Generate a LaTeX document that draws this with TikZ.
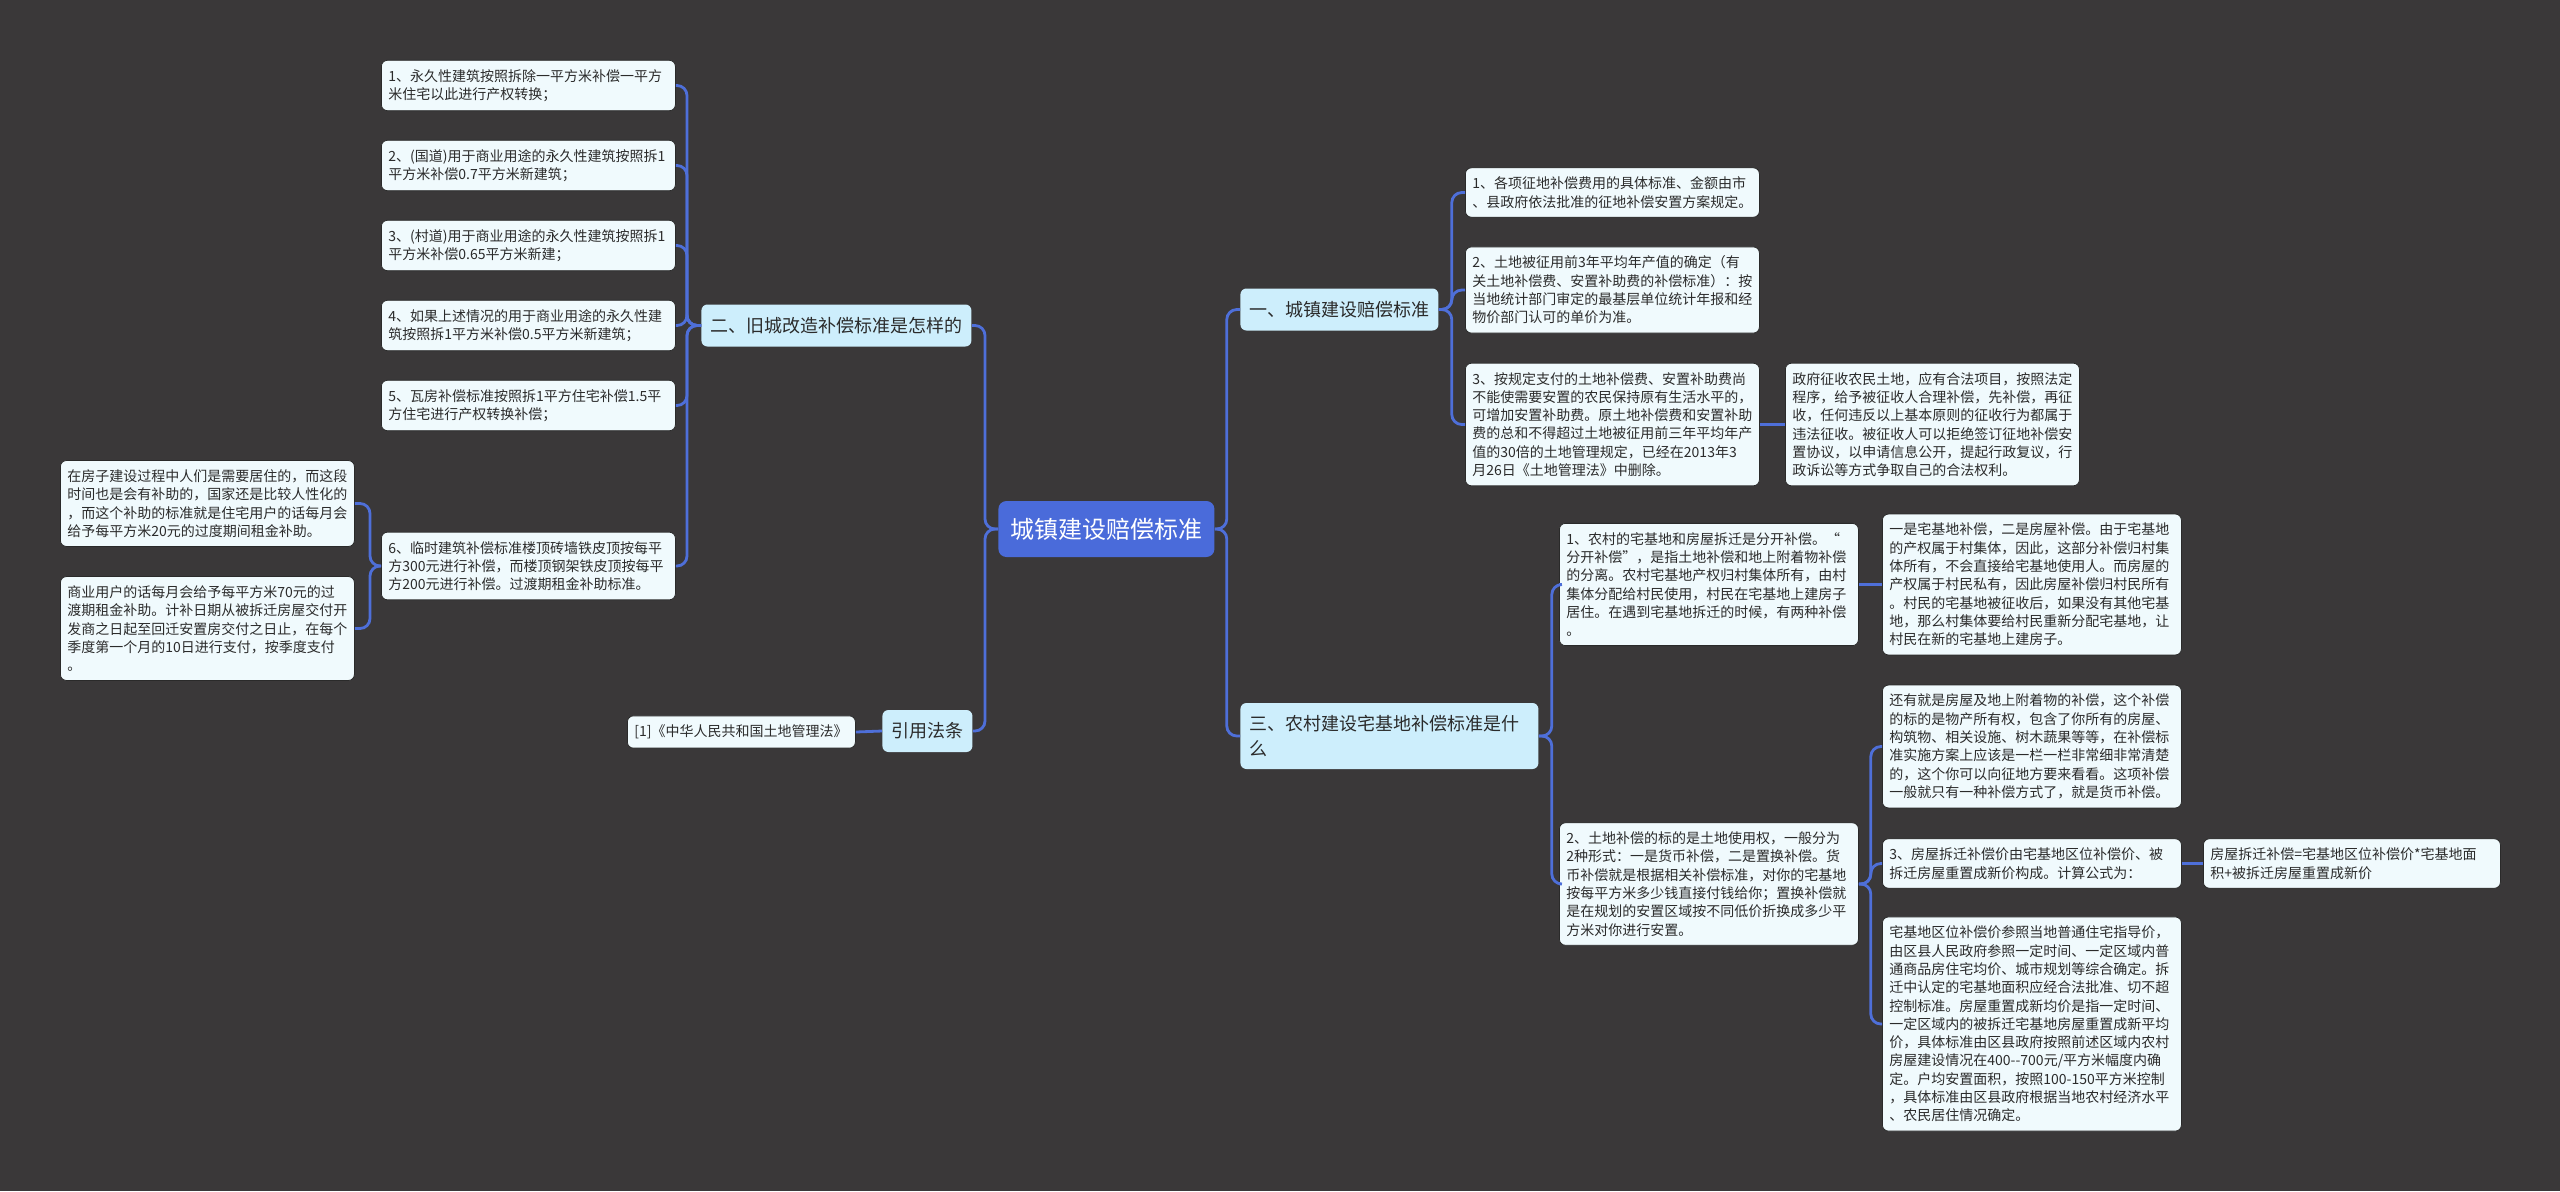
\documentclass[tikz,border=0pt]{standalone}
\usepackage{fontspec}
\setmainfont{Noto Sans CJK SC}
\usepackage{tikz}
\definecolor{bgdark}{HTML}{3A3839}
\definecolor{linkblue}{HTML}{4E6FD9}
\definecolor{rootbg}{HTML}{4A6BDA}
\definecolor{topicbg}{HTML}{CDEEFC}
\definecolor{leafbg}{HTML}{F0FAFD}
\definecolor{leafline}{HTML}{2A2A2A}
\definecolor{inkdark}{HTML}{2B2B2B}
\tikzset{
  leaf/.style={draw=leafline, line width=0.4pt, fill=leafbg, rounded corners=3pt,
               text=inkdark, font=\fontsize{7}{9.15}\selectfont, align=left,
               inner xsep=3.5pt, inner ysep=4.5pt, text width=140pt, anchor=west},
  topic/.style={fill=topicbg, rounded corners=3pt, text=inkdark,
                font=\fontsize{9}{12.5}\selectfont, align=left,
                inner xsep=4.5pt, minimum height=21pt, anchor=west},
  rootnode/.style={fill=rootbg, rounded corners=4pt, text=white,
                   font=\fontsize{12}{14}\selectfont, inner xsep=6pt,
                   minimum height=28pt, anchor=west},
  link/.style={draw=linkblue, line width=1.4pt, rounded corners=5pt},
}
\begin{document}
\begin{tikzpicture}[x=0.5pt, y=-0.5pt]
  \fill[bgdark] (0,0) rectangle (2560,1191);
  % centre
  \node[rootnode] (root) at (998,529) {城镇建设赔偿标准};
  % left side
  \node[topic] (old) at (701,325.5) {二、旧城改造补偿标准是怎样的};
  \node[topic] (cite) at (882,731) {引用法条};
  \node[leaf, text width=107pt] (law) at (627,732) {{[1]}《中华人民共和国土地管理法》};
  \node[leaf] (c1) at (381,85.5) {1、永久性建筑按照拆除一平方米补偿一平方\\米住宅以此进行产权转换；};
  \node[leaf] (c2) at (381,165.5) {2、(国道)用于商业用途的永久性建筑按照拆1\\平方米补偿0.7平方米新建筑；};
  \node[leaf] (c3) at (381,245.5) {3、(村道)用于商业用途的永久性建筑按照拆1\\平方米补偿0.65平方米新建；};
  \node[leaf] (c4) at (381,325.5) {4、如果上述情况的用于商业用途的永久性建\\筑按照拆1平方米补偿0.5平方米新建筑；};
  \node[leaf] (c5) at (381,405.5) {5、瓦房补偿标准按照拆1平方住宅补偿1.5平\\方住宅进行产权转换补偿；};
  \node[leaf] (c6) at (381,566) {6、临时建筑补偿标准楼顶砖墙铁皮顶按每平\\方300元进行补偿，而楼顶钢架铁皮顶按每平\\方200元进行补偿。过渡期租金补助标准。};
  \node[leaf] (g1) at (60,503.5) {在房子建设过程中人们是需要居住的，而这段\\时间也是会有补助的，国家还是比较人性化的\\，而这个补助的标准就是住宅用户的话每月会\\给予每平方米20元的过度期间租金补助。};
  \node[leaf] (g2) at (60,628.5) {商业用户的话每月会给予每平方米70元的过\\渡期租金补助。计补日期从被拆迁房屋交付开\\发商之日起至回迁安置房交付之日止，在每个\\季度第一个月的10日进行支付，按季度支付\\。};
  % right side
  \node[topic] (town) at (1240,309.5) {一、城镇建设赔偿标准};
  \node[topic, text width=140pt, minimum height=33pt] (rural) at (1240,736) {三、农村建设宅基地补偿标准是什\\么};
  \node[leaf] (a1) at (1465,192.5) {1、各项征地补偿费用的具体标准、金额由市\\、县政府依法批准的征地补偿安置方案规定。};
  \node[leaf] (a2) at (1465,290) {2、土地被征用前3年平均年产值的确定（有\\关土地补偿费、安置补助费的补偿标准）：按\\当地统计部门审定的最基层单位统计年报和经\\物价部门认可的单价为准。};
  \node[leaf] (a3) at (1465,424.5) {3、按规定支付的土地补偿费、安置补助费尚\\不能使需要安置的农民保持原有生活水平的，\\可增加安置补助费。原土地补偿费和安置补助\\费的总和不得超过土地被征用前三年平均年产\\值的30倍的土地管理规定，已经在2013年3\\月26日《土地管理法》中删除。};
  \node[leaf] (b1) at (1785,424.5) {政府征收农民土地，应有合法项目，按照法定\\程序，给予被征收人合理补偿，先补偿，再征\\收，任何违反以上基本原则的征收行为都属于\\违法征收。被征收人可以拒绝签订征地补偿安\\置协议，以申请信息公开，提起行政复议，行\\政诉讼等方式争取自己的合法权利。};
  \node[leaf, text width=142.5pt] (r1) at (1559,584.5) {1、农村的宅基地和房屋拆迁是分开补偿。“\\分开补偿”，是指土地补偿和地上附着物补偿\\的分离。农村宅基地产权归村集体所有，由村\\集体分配给村民使用，村民在宅基地上建房子\\居住。在遇到宅基地拆迁的时候，有两种补偿\\。};
  \node[leaf, text width=142.5pt] (t1) at (1882,584.5) {一是宅基地补偿，二是房屋补偿。由于宅基地\\的产权属于村集体，因此，这部分补偿归村集\\体所有，不会直接给宅基地使用人。而房屋的\\产权属于村民私有，因此房屋补偿归村民所有\\。村民的宅基地被征收后，如果没有其他宅基\\地，那么村集体要给村民重新分配宅基地，让\\村民在新的宅基地上建房子。};
  \node[leaf, text width=142.5pt] (r2) at (1559,884) {2、土地补偿的标的是土地使用权，一般分为\\2种形式：一是货币补偿，二是置换补偿。货\\币补偿就是根据相关补偿标准，对你的宅基地\\按每平方米多少钱直接付钱给你；置换补偿就\\是在规划的安置区域按不同低价折换成多少平\\方米对你进行安置。};
  \node[leaf, text width=142.5pt] (s1) at (1882,746.5) {还有就是房屋及地上附着物的补偿，这个补偿\\的标的是物产所有权，包含了你所有的房屋、\\构筑物、相关设施、树木蔬果等等，在补偿标\\准实施方案上应该是一栏一栏非常细非常清楚\\的，这个你可以向征地方要来看看。这项补偿\\一般就只有一种补偿方式了，就是货币补偿。};
  \node[leaf, text width=142.5pt] (s2) at (1882,863.5) {3、房屋拆迁补偿价由宅基地区位补偿价、被\\拆迁房屋重置成新价构成。计算公式为：};
  \node[leaf, text width=141.5pt] (u1) at (2203,863.5) {房屋拆迁补偿=宅基地区位补偿价*宅基地面\\积+被拆迁房屋重置成新价};
  \node[leaf, text width=142.5pt] (s3) at (1882,1024) {宅基地区位补偿价参照当地普通住宅指导价，\\由区县人民政府参照一定时间、一定区域内普\\通商品房住宅均价、城市规划等综合确定。拆\\迁中认定的宅基地面积应经合法批准、切不超\\控制标准。房屋重置成新均价是指一定时间、\\一定区域内的被拆迁宅基地房屋重置成新平均\\价，具体标准由区县政府按照前述区域内农村\\房屋建设情况在400-{}-700元/平方米幅度内确\\定。户均安置面积，按照100-150平方米控制\\，具体标准由区县政府根据当地农村经济水平\\、农民居住情况确定。};
  % connectors
  \draw[link] (root.west) -- ++(-13,0) |- (old.east);
  \draw[link] (root.west) -- ++(-13,0) |- (cite.east);
  \draw[link] (cite.west) -- (law.east);
  \foreach \n in {c1,c2,c3,c4,c5,c6}
    \draw[link] (old.west) -- ++(-14,0) |- (\n.east);
  \draw[link] (c6.west) -- ++(-11,0) |- (g1.east);
  \draw[link] (c6.west) -- ++(-11,0) |- (g2.east);
  \draw[link] (root.east) -- ++(12,0) |- (town.west);
  \draw[link] (root.east) -- ++(12,0) |- (rural.west);
  \foreach \n in {a1,a2,a3}
    \draw[link] (town.east) -- ++(13,0) |- (\n.west);
  \draw[link] (a3.east) -- (b1.west);
  \draw[link] (rural.east) -- ++(13,0) |- (r1.west);
  \draw[link] (rural.east) -- ++(13,0) |- (r2.west);
  \draw[link] (r1.east) -- (t1.west);
  \foreach \n in {s1,s2,s3}
    \draw[link] (r2.east) -- ++(12,0) |- (\n.west);
  \draw[link] (s2.east) -- (u1.west);
\end{tikzpicture}
\end{document}
